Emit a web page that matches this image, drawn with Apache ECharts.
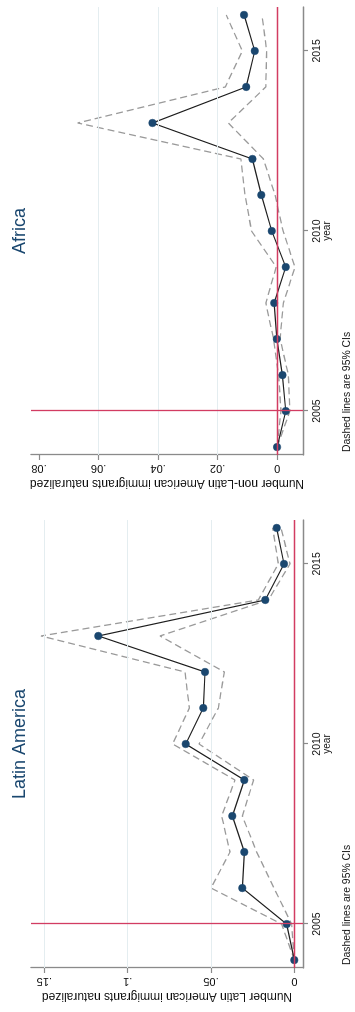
<!DOCTYPE html>
<html>
<head>
<meta charset="utf-8">
<script src="https://cdn.jsdelivr.net/npm/echarts@6/dist/echarts.min.js"></script>
<style>
html,body{margin:0;padding:0;width:355px;height:1012px;overflow:hidden;background:#ffffff;}
#chart{position:absolute;left:0;top:0;width:1012px;height:355px;transform-origin:0 0;transform:translateY(1012px) rotate(-90deg);}
</style>
</head>
<body>
<div id="chart"></div>
<script>
// ---- data ----
const years = [2004, 2005, 2006, 2007, 2008, 2009, 2010, 2011, 2012, 2013, 2014, 2015, 2016];

const latEst   = [0, 0.0046, 0.0312, 0.0300, 0.0372, 0.0300, 0.0652, 0.0546, 0.0536, 0.1176, 0.0174, 0.0062, 0.0106];
const latUpper = [0, 0.0076, 0.0500, 0.0386, 0.0436, 0.0356, 0.0730, 0.0630, 0.0656, 0.1520, 0.0216, 0.0096, 0.0130];
const latLower = [0, 0.0016, 0.0122, 0.0226, 0.0312, 0.0244, 0.0572, 0.0456, 0.0420, 0.0806, 0.0156, 0.0026, 0.0080];

const afEst   = [0, -0.0029, -0.0018, 0.0001, 0.0010, -0.0029, 0.0018, 0.0053, 0.0083, 0.0419, 0.0104, 0.0075, 0.0111];
const afUpper = [0, -0.0013, -0.0005, 0.0012, 0.0038, 0.0003, 0.0086, 0.0108, 0.0122, 0.0670, 0.0174, 0.0117, 0.0171];
const afLower = [0, -0.0043, -0.0038, -0.0010, -0.0021, -0.0060, -0.0020, 0.0007, 0.0046, 0.0164, 0.0038, 0.0035, 0.0051];

const yearTicks = [2005, 2010, 2015];
const refYear = 2005;
const refValue = 0;

const latTicks = [0, 0.05, 0.1, 0.15];
const latTickLabels = ['0', '.05', '.1', '.15'];
const latGridValues = [0.05, 0.1, 0.15];

const afTicks = [0, 0.02, 0.04, 0.06, 0.08];
const afTickLabels = ['0', '.02', '.04', '.06', '.08'];
const afGridValues = [0.02, 0.04, 0.06];

const panelTitles = ['Latin America', 'Africa'];
const valueTitles = ['Number Latin American immigrants naturalized', 'Number non-Latin American immigrants naturalized'];
const yearTitle = 'year';
const noteText = 'Dashed lines are 95% CIs';

// ---- styles ----
const FONT = '"Liberation Sans", Arial, Helvetica, sans-serif';
const AX = '#8a8a8a';
const NAVY = '#1a476f';
const RED = '#d23c62';
const GRID = '#e4edf0';
const CI = '#9a9a9a';

const pairs = (vals) => years.map((y, i) => [y, vals[i]]);

function yearAxis(gi) {
  return {
    type: 'value', gridIndex: gi, min: 2003.78, max: 2016.22,
    axisLine: {show: true, onZero: false, lineStyle: {color: AX, width: 1.3}},
    axisTick: {show: true, length: 5, customValues: yearTicks, lineStyle: {color: AX, width: 1.2}},
    axisLabel: {show: true, customValues: yearTicks, margin: 9, fontSize: 10.5, color: '#111', fontFamily: FONT,
      formatter: v => String(Math.round(v))},
    splitLine: {show: false},
    name: yearTitle, nameLocation: 'middle', nameGap: 19, nameMoveOverlap: false,
    nameTextStyle: {fontSize: 10, color: '#111', fontFamily: FONT}
  };
}

function valueAxis(gi, min, max, ticks, labels, title) {
  return {
    type: 'value', gridIndex: gi, min: min, max: max,
    axisLine: {show: true, onZero: false, lineStyle: {color: AX, width: 1.3}},
    axisTick: {show: true, length: 5, customValues: ticks, lineStyle: {color: AX, width: 1.2}},
    axisLabel: {show: true, customValues: ticks, rotate: 90, margin: 8, fontSize: 11, color: '#111', fontFamily: FONT,
      formatter: v => { const i = ticks.findIndex(t => Math.abs(t - v) < 1e-9); return i >= 0 ? labels[i] : ''; }},
    splitLine: {show: false},
    name: title, nameLocation: 'middle', nameGap: 22,
    nameTextStyle: {fontSize: 12, color: '#111', fontFamily: FONT}
  };
}

function panelSeries(gi, est, upper, lower, gridVals) {
  const base = {xAxisIndex: gi, yAxisIndex: gi, animation: false, silent: true};
  return [
    Object.assign({}, base, {
      type: 'line', data: [], z: 0, symbol: 'none',
      markLine: {silent: true, symbol: 'none', label: {show: false},
        lineStyle: {color: GRID, width: 1, type: 'solid'},
        data: gridVals.map(v => ({yAxis: v}))}
    }),
    Object.assign({}, base, {
      type: 'line', data: [], z: 1, symbol: 'none',
      markLine: {silent: true, symbol: 'none', label: {show: false},
        lineStyle: {color: RED, width: 1.3, type: 'solid'},
        data: [{yAxis: refValue}, {xAxis: refYear}]}
    }),
    Object.assign({}, base, {
      type: 'line', data: pairs(upper), z: 2, symbol: 'none',
      lineStyle: {color: CI, width: 1.3, type: [7, 4]}
    }),
    Object.assign({}, base, {
      type: 'line', data: pairs(lower), z: 2, symbol: 'none',
      lineStyle: {color: CI, width: 1.3, type: [7, 4]}
    }),
    Object.assign({}, base, {
      type: 'line', data: pairs(est), z: 3, symbol: 'circle', symbolSize: 7.5,
      lineStyle: {color: '#1f1f1f', width: 1.2},
      itemStyle: {color: NAVY, borderColor: NAVY, borderWidth: 0.5}
    })
  ];
}

const chart = echarts.init(document.getElementById('chart'), null, {renderer: 'canvas', width: 1012, height: 355});

const option = {
  backgroundColor: '#ffffff',
  animation: false,
  grid: [
    {left: 44, top: 31, width: 448, height: 272, containLabel: false},
    {left: 557, top: 31, width: 448, height: 272, containLabel: false}
  ],
  xAxis: [yearAxis(0), yearAxis(1)],
  yAxis: [
    valueAxis(0, -0.0052, 0.158, latTicks, latTickLabels, valueTitles[0]),
    valueAxis(1, -0.0087, 0.0827, afTicks, afTickLabels, valueTitles[1])
  ],
  graphic: [
    {type: 'text', x: 268, y: 20, silent: true,
      style: {text: panelTitles[0], fill: NAVY, fontSize: 18, fontFamily: FONT, align: 'center', verticalAlign: 'middle'}},
    {type: 'text', x: 781, y: 20, silent: true,
      style: {text: panelTitles[1], fill: NAVY, fontSize: 18, fontFamily: FONT, align: 'center', verticalAlign: 'middle'}},
    {type: 'text', x: 47, y: 347, silent: true,
      style: {text: noteText, fill: '#111', fontSize: 10.4, fontFamily: FONT, align: 'left', verticalAlign: 'middle'}},
    {type: 'text', x: 560, y: 347, silent: true,
      style: {text: noteText, fill: '#111', fontSize: 10.4, fontFamily: FONT, align: 'left', verticalAlign: 'middle'}}
  ],
  series: [].concat(
    panelSeries(0, latEst, latUpper, latLower, latGridValues),
    panelSeries(1, afEst, afUpper, afLower, afGridValues)
  )
};
chart.setOption(option);
</script>
</body>
</html>
